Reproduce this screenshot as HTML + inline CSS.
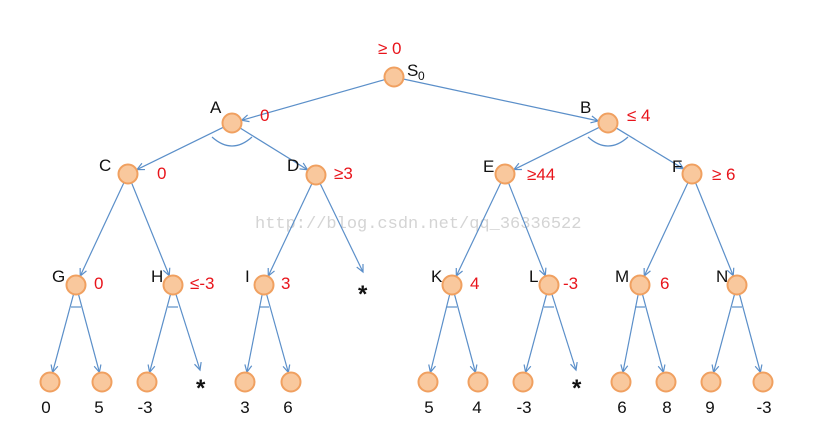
<!DOCTYPE html>
<html><head><meta charset="utf-8"><style>
html,body{margin:0;padding:0;background:#fff;}
svg{display:block;font-family:"Liberation Sans",sans-serif;}
.k{font-size:17px;fill:#111;}
.r{font-size:17px;fill:#e8141b;}
</style></head><body>
<svg id="s" width="813" height="425" viewBox="0 0 813 425">
<text x="255" y="228" font-family="Liberation Mono, monospace" font-size="17" fill="#d4d4d4">http://blog.csdn.net/qq_36336522</text>
<g id="edges" stroke="#5b8fc9" stroke-width="1.2" fill="none"></g>
<g id="nodes" fill="#f9c89d" stroke="#f0a060" stroke-width="2"></g>
<g stroke="#5b8fc9" stroke-width="1.2" fill="none">
<path d="M212 137 Q232 155 252 137"/>
<path d="M588 137 Q608 155 628 137"/>
</g>
<text class="r" x="378" y="54">≥ 0</text>
<text class="k" x="407" y="76">S</text><text class="k" x="418" y="80" style="font-size:12px">0</text>
<text class="k" x="210" y="113">A</text><text class="r" x="260" y="121">0</text>
<text class="k" x="580" y="113">B</text><text class="r" x="627" y="121">≤ 4</text>
<text class="k" x="99" y="171">C</text><text class="r" x="157" y="179">0</text>
<text class="k" x="287" y="171">D</text><text class="r" x="334" y="179">≥3</text>
<text class="k" x="483" y="172">E</text><text class="r" x="527" y="180">≥44</text>
<text class="k" x="672" y="172">F</text><text class="r" x="712" y="180">≥ 6</text>
<text class="k" x="52" y="282">G</text><text class="r" x="94" y="289">0</text>
<text class="k" x="151" y="282">H</text><text class="r" x="190" y="289">≤-3</text>
<text class="k" x="245" y="282">I</text><text class="r" x="281" y="289">3</text>
<text class="k" x="431" y="282">K</text><text class="r" x="470" y="289">4</text>
<text class="k" x="529" y="282">L</text><text class="r" x="563" y="289">-3</text>
<text class="k" x="615" y="282">M</text><text class="r" x="660" y="289">6</text>
<text class="k" x="716" y="282">N</text>
<text class="k" x="358" y="302" style="font-size:24px;font-weight:bold">*</text>
<text class="k" x="196" y="396" style="font-size:24px;font-weight:bold">*</text>
<text class="k" x="572" y="396" style="font-size:24px;font-weight:bold">*</text>
<g class="k" text-anchor="middle">
<text x="46" y="413">0</text><text x="99" y="413">5</text><text x="145" y="413">-3</text>
<text x="245" y="413">3</text><text x="288" y="413">6</text>
<text x="429" y="413">5</text><text x="477" y="413">4</text><text x="524" y="413">-3</text>
<text x="622" y="413">6</text><text x="667" y="413">8</text><text x="710" y="413">9</text><text x="764" y="413">-3</text>
</g>
</svg>
<script>
var N={S:[394,77],A:[232,123],B:[608,123],C:[128,174],D:[316,175],E:[505,174],F:[692,174],
G:[76,285],H:[173,285],I:[264,285],K:[452,285],L:[549,285],M:[640,285],Nn:[737,285],
g1:[50,382],g2:[102,382],h1:[147,382],h2:[200,370],i1:[245,382],i2:[291,382],
k1:[428,382],k2:[478,382],l1:[523,382],l2:[576,370],m1:[621,382],m2:[666,382],n1:[711,382],n2:[763,382],
dstar:[363,272]};
var E=[["S","A"],["S","B"],["A","C"],["A","D"],["B","E"],["B","F"],["C","G"],["C","H"],["D","I"],["D","dstar"],
["E","K"],["E","L"],["F","M"],["F","Nn"],["G","g1"],["G","g2"],["H","h1"],["H","h2"],["I","i1"],["I","i2"],
["K","k1"],["K","k2"],["L","l1"],["L","l2"],["M","m1"],["M","m2"],["Nn","n1"],["Nn","n2"]];
var ns="http://www.w3.org/2000/svg",eg=document.getElementById("edges"),ng=document.getElementById("nodes");
function el(t,a,p){var e=document.createElementNS(ns,t);for(var k in a)e.setAttribute(k,a[k]);p.appendChild(e);}
E.forEach(function(e){var a=N[e[0]],b=N[e[1]],dx=b[0]-a[0],dy=b[1]-a[1],L=Math.hypot(dx,dy),ux=dx/L,uy=dy/L;
var star=(e[1]=="dstar"||e[1]=="h2"||e[1]=="l2");
var x1=a[0]+ux*10,y1=a[1]+uy*10,x2=b[0]-ux*(star?0:10),y2=b[1]-uy*(star?0:10);
el("line",{x1:x1,y1:y1,x2:x2,y2:y2},eg);
var s=8,c=Math.cos(0.45),sn=Math.sin(0.45);
var p1=[x2-s*(ux*c-uy*sn),y2-s*(uy*c+ux*sn)],p2=[x2-s*(ux*c+uy*sn),y2-s*(uy*c-ux*sn)];
el("polyline",{points:p1+" "+x2+","+y2+" "+p2},eg);});
["G","H","I","K","L","M","Nn"].forEach(function(k){var p=N[k];el("line",{x1:p[0]-5,y1:p[1]+22,x2:p[0]+5,y2:p[1]+22},eg);});
for(var k in N){if(["h2","l2","dstar"].indexOf(k)>=0)continue;el("circle",{cx:N[k][0],cy:N[k][1],r:9.5},ng);}
</script>
</body></html>
